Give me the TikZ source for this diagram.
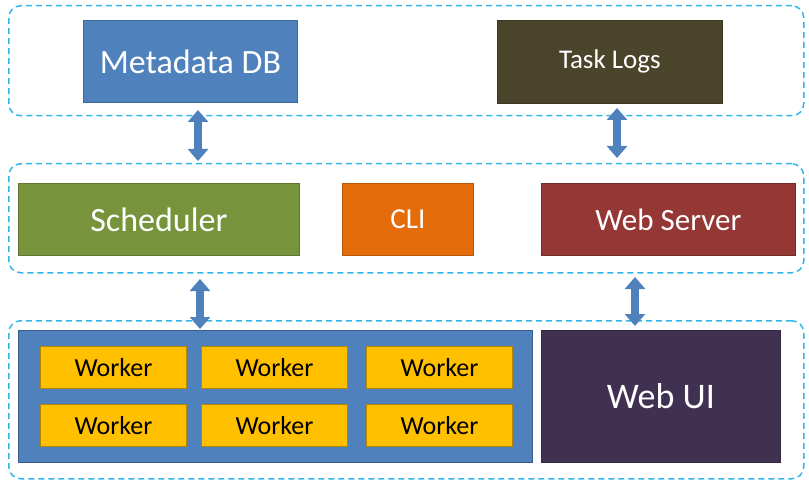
\documentclass[tikz,border=0pt]{standalone}
\usepackage{fontspec}
\setmainfont{Carlito}
\usetikzlibrary{arrows.meta}
\definecolor{dbblue}{HTML}{4F81BD}
\definecolor{dbedge}{HTML}{385D8A}
\definecolor{logs}{HTML}{4A452A}
\definecolor{sched}{HTML}{77933C}
\definecolor{cli}{HTML}{E46C0A}
\definecolor{websrv}{HTML}{953735}
\definecolor{webui}{HTML}{403152}
\definecolor{worker}{HTML}{FFC000}
\definecolor{dash}{HTML}{31B6E7}
\tikzset{
  box/.style={draw=#1!80!black, fill=#1, line width=0.8pt, text=white, anchor=north west, inner sep=0pt},
  layer/.style={draw=dash, dash pattern=on 6pt off 4pt, line width=1.5pt, rounded corners=12pt, anchor=north west, inner sep=0pt},
  wk/.style={draw=worker!70!black, fill=worker, line width=0.8pt, anchor=north west, minimum width=146pt, minimum height=42pt, inner sep=0pt, font=\fontsize{26}{28}\selectfont},
  link/.style={{Triangle[width=20pt,length=12pt]}-{Triangle[width=20pt,length=12pt]}, line width=8pt, draw=dbblue}
}
\begin{document}
\begin{tikzpicture}[x=1pt,y=-1pt]
  \useasboundingbox (0,0) rectangle (809,492);
  % layers
  \node[layer, minimum width=795pt, minimum height=110pt] at (8,5) (top) {};
  \node[layer, minimum width=795pt, minimum height=109pt] at (8,163) (mid) {};
  \node[layer, minimum width=795pt, minimum height=158pt] at (8,320) (bot) {};
  % top row
  \node[box=dbblue, minimum width=214pt, minimum height=82pt, font=\fontsize{34}{36}\selectfont] at (83,20) (mdb) {Metadata DB};
  \node[box=logs, minimum width=225pt, minimum height=83pt, font=\fontsize{27}{29}\selectfont] at (497,20) (logs) {Task Logs};
  % middle row
  \node[box=sched, minimum width=281pt, minimum height=72pt, font=\fontsize{34}{36}\selectfont] at (18,183) (sched) {Scheduler};
  \node[box=cli, minimum width=131pt, minimum height=72pt, font=\fontsize{29}{31}\selectfont] at (342,183) (cli) {CLI};
  \node[box=websrv, minimum width=254pt, minimum height=72pt, font=\fontsize{31}{33}\selectfont] at (541,183) (websrv) {Web Server};
  % bottom row
  \node[box=dbblue, draw=dbedge, minimum width=514pt, minimum height=132pt] at (18,330) (pool) {};
  \node[box=webui, minimum width=239pt, minimum height=132pt, font=\fontsize{36}{38}\selectfont] at (541,330) (webui) {Web UI};
  \foreach \c/\x in {1/40,2/201,3/366}
    \foreach \r/\y in {1/346,2/404}
      \node[wk] at (\x,\y) (w\r\c) {Worker};
  % links
  \coordinate (a1) at (198,110);
  \coordinate (a2) at (198,161);
  \coordinate (b1) at (617,108);
  \coordinate (b2) at (617,158);
  \coordinate (c1) at (200,279);
  \coordinate (c2) at (200,329);
  \coordinate (d1) at (635,277);
  \coordinate (d2) at (635,326);
  \draw[link] (a1) -- (a2);
  \draw[link] (b1) -- (b2);
  \draw[link] (c1) -- (c2);
  \draw[link] (d1) -- (d2);
\end{tikzpicture}
\end{document}
